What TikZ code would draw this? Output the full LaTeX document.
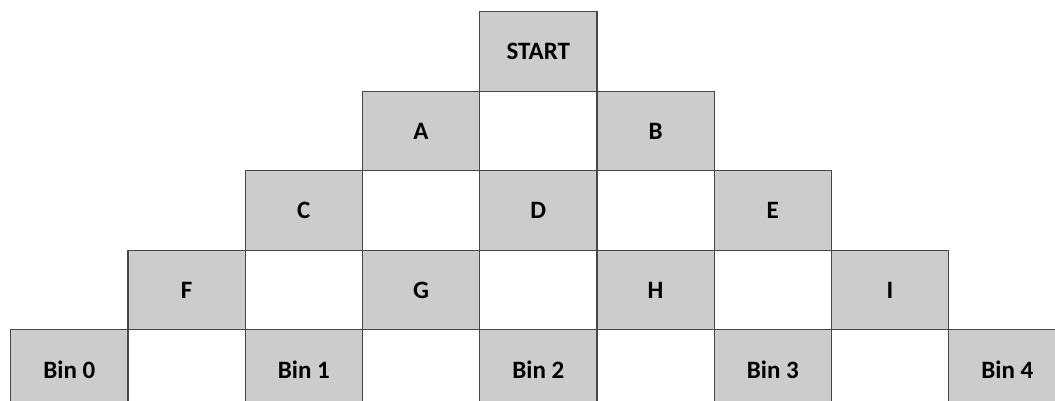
\documentclass[tikz,border=0pt]{standalone}
\usepackage{fontspec}
\setmainfont{Carlito}
\begin{document}
\begin{tikzpicture}[x=1pt,y=-1pt,
  cellg/.style={draw=black!72,line width=1.3pt,fill=black!20,minimum width=117.25pt,minimum height=79.5pt,inner sep=0pt,font=\bfseries\fontsize{25}{30}\selectfont,anchor=north west},
  cellw/.style={cellg,fill=white}]
\useasboundingbox (0,0) rectangle (1055,400);
\clip (0,0) rectangle (1055,400);
% row 0
\node[cellg] (start) at (479.0,11) {START};
% row 1
\node[cellg] (A) at (361.75,90.5) {A};
\node[cellw] (w1a) at (479.0,90.5) {};
\node[cellg] (B) at (596.25,90.5) {B};
% row 2
\node[cellg] (C) at (244.5,170) {C};
\node[cellw] (w2a) at (361.75,170) {};
\node[cellg] (D) at (479.0,170) {D};
\node[cellw] (w2b) at (596.25,170) {};
\node[cellg] (E) at (713.5,170) {E};
% row 3
\node[cellg] (F) at (127.25,249.5) {F};
\node[cellw] (w3a) at (244.5,249.5) {};
\node[cellg] (G) at (361.75,249.5) {G};
\node[cellw] (w3b) at (479.0,249.5) {};
\node[cellg] (H) at (596.25,249.5) {H};
\node[cellw] (w3c) at (713.5,249.5) {};
\node[cellg] (I) at (830.75,249.5) {I};
% row 4
\node[cellg] (bin0) at (10,329) {Bin 0};
\node[cellw] (w4a) at (127.25,329) {};
\node[cellg] (bin1) at (244.5,329) {Bin 1};
\node[cellw] (w4b) at (361.75,329) {};
\node[cellg] (bin2) at (479.0,329) {Bin 2};
\node[cellw] (w4c) at (596.25,329) {};
\node[cellg] (bin3) at (713.5,329) {Bin 3};
\node[cellw] (w4d) at (830.75,329) {};
\node[cellg] (bin4) at (948,329) {Bin 4};
\end{tikzpicture}
\end{document}
